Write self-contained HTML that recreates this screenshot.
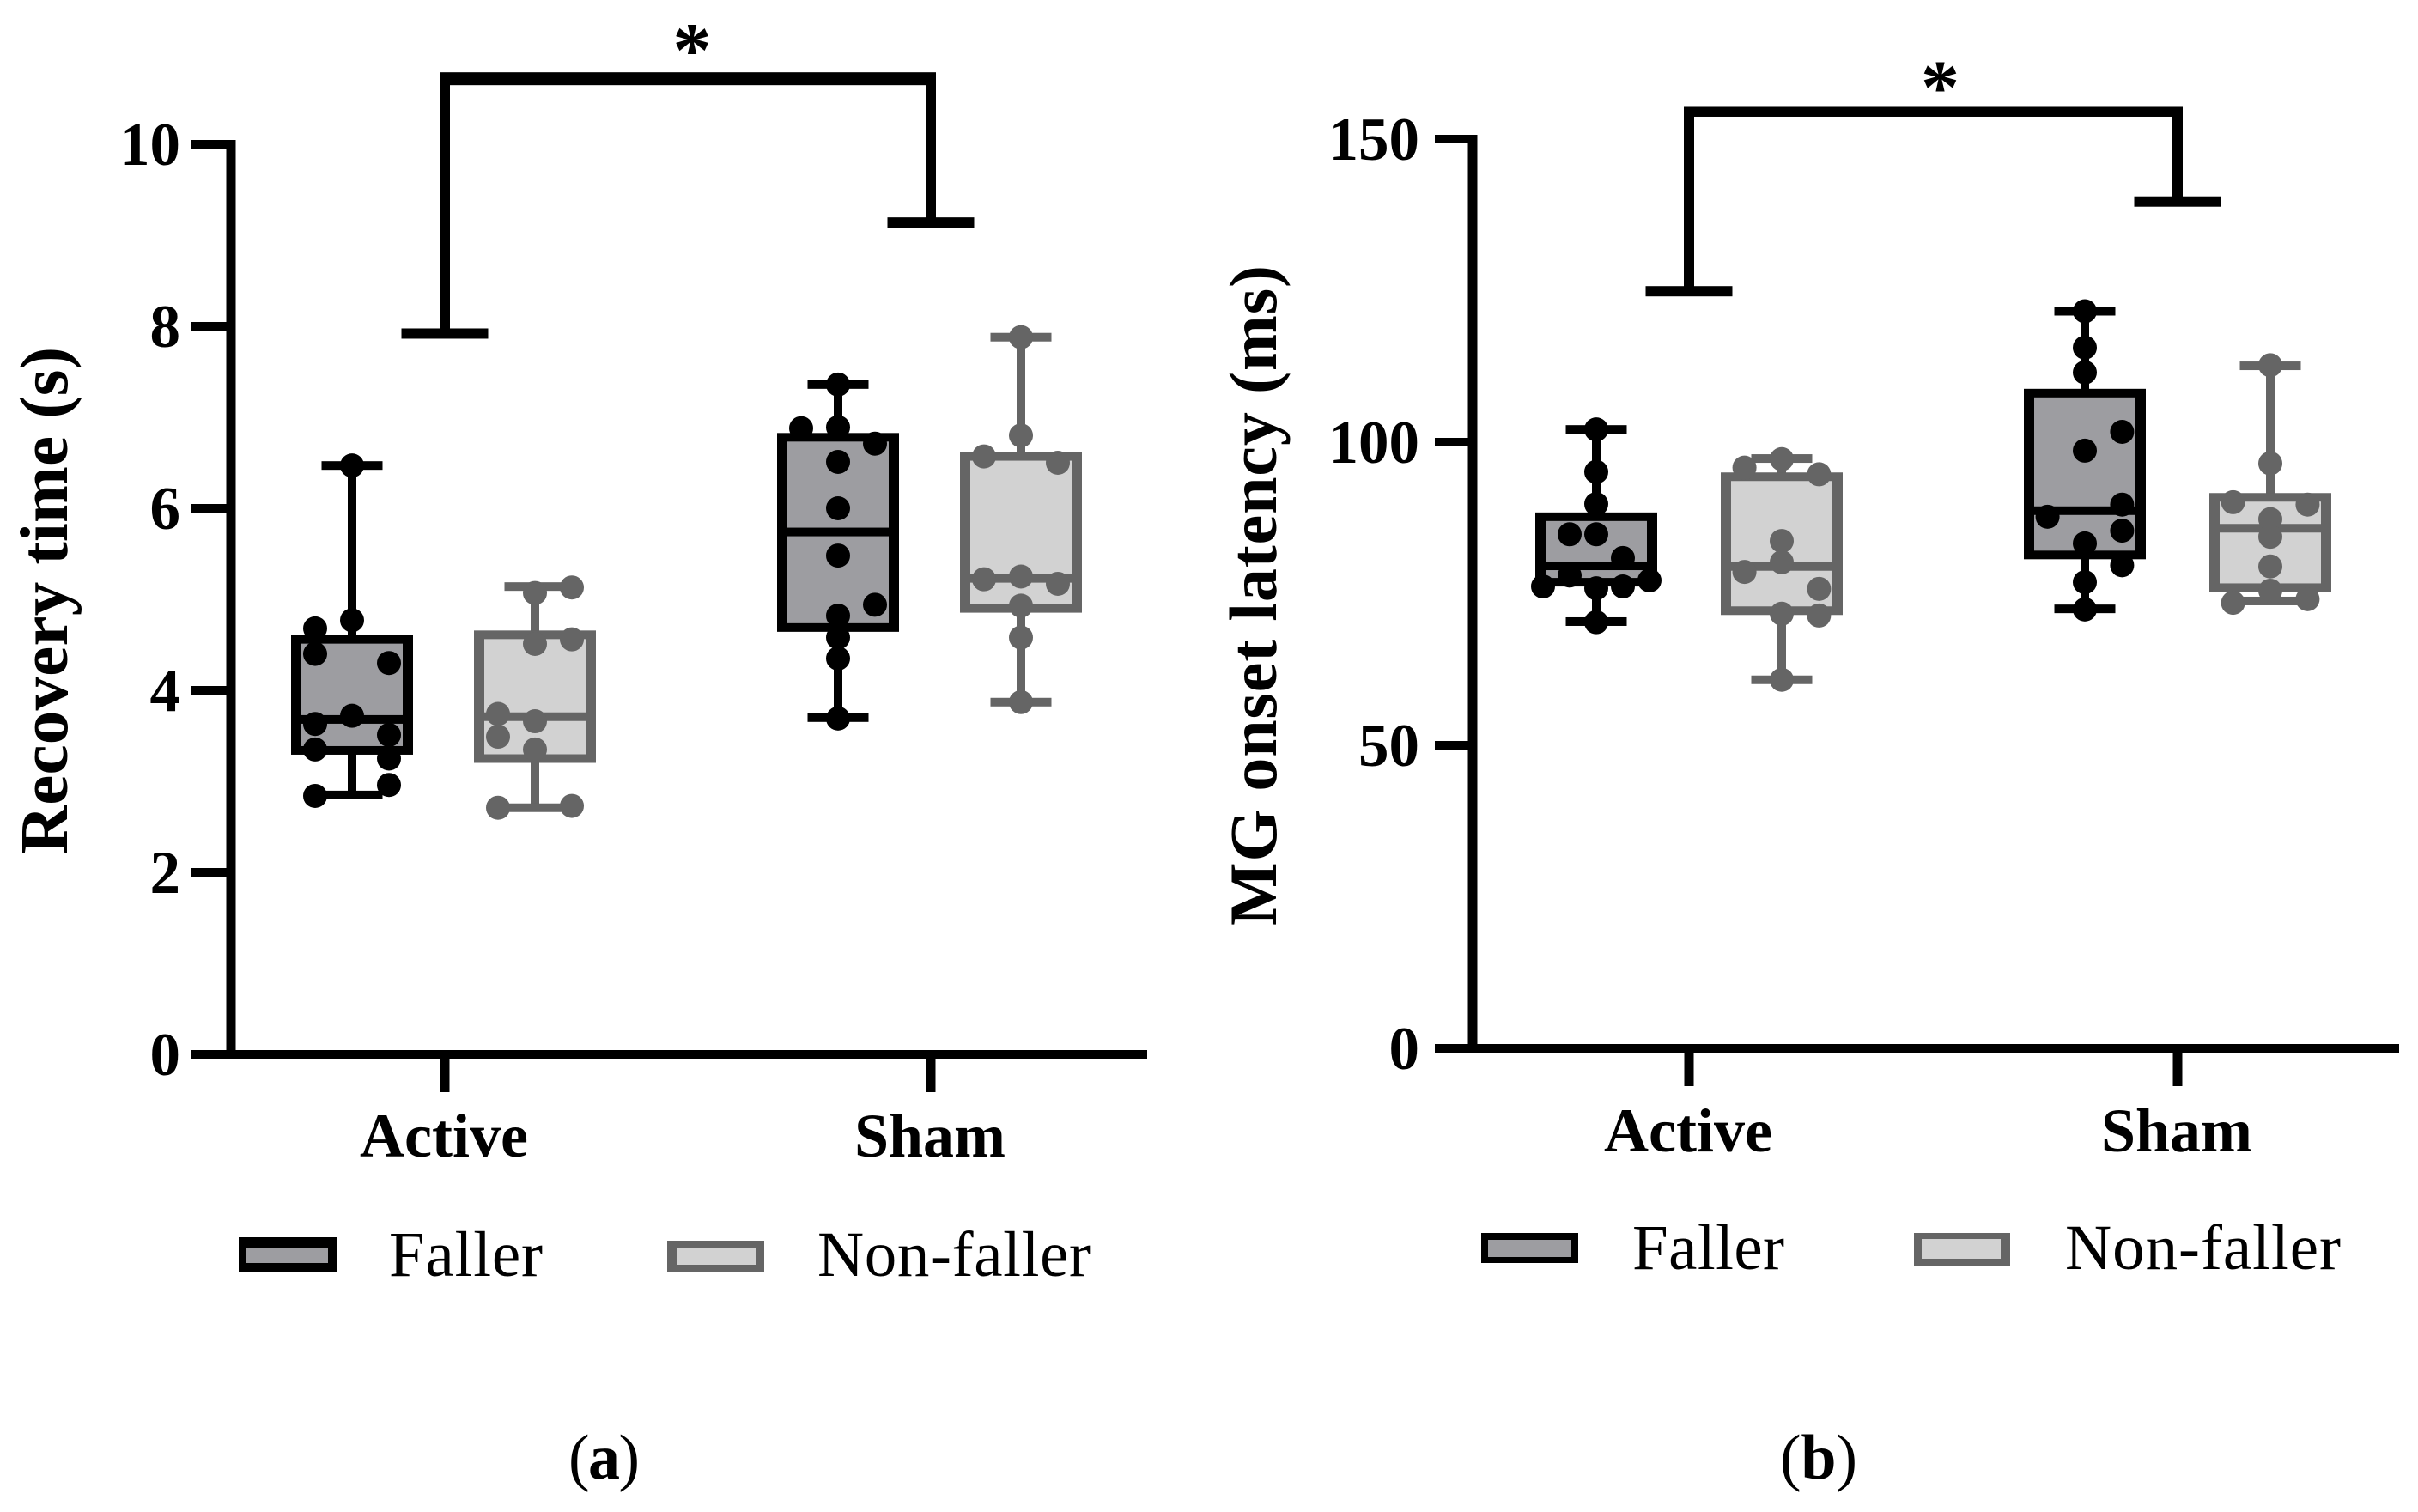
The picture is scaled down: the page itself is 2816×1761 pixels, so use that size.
<!DOCTYPE html>
<html lang="en">
<head>
<meta charset="utf-8">
<title>Recovery time and MG onset latency box plots</title>
<style>
html,body{margin:0;padding:0;background:#fff;}
svg{display:block;}
text{font-family:"Liberation Serif",serif;fill:#000;}
.bold{font-weight:bold;}
</style>
</head>
<body>
<svg id="figure" xmlns="http://www.w3.org/2000/svg" width="2816" height="1761" viewBox="0 0 2816 1761">
  <rect x="0" y="0" width="2816" height="1761" fill="#ffffff"/>
  <g id="panel-a"></g>
  <g id="panel-b"></g>

  <text class="bold" font-size="79" textLength="591" lengthAdjust="spacing" transform="translate(78,995) rotate(-90)">Recovery time (s)</text>
  <text class="bold" font-size="78" textLength="769" lengthAdjust="spacing" transform="translate(1486,1078) rotate(-90)">MG onset latency (ms)</text>

  <g>
    <rect x="278" y="1441" width="114" height="40" fill="#000000"/>
    <rect x="286" y="1454" width="96" height="17" fill="#9d9da1"/>
    <text x="453" y="1486" font-size="75" textLength="179" lengthAdjust="spacing">Faller</text>
    <rect x="777" y="1445" width="113" height="37" fill="#656565"/>
    <rect x="788" y="1454" width="92" height="19" fill="#d2d2d2"/>
    <text x="952" y="1486" font-size="75" textLength="318" lengthAdjust="spacing">Non-faller</text>
  </g>
  <g>
    <rect x="1725" y="1436" width="113" height="35" fill="#000000"/>
    <rect x="1733" y="1444" width="97" height="20" fill="#9d9da1"/>
    <text x="1901" y="1478" font-size="75" textLength="177" lengthAdjust="spacing">Faller</text>
    <rect x="2229" y="1436" width="112" height="39" fill="#656565"/>
    <rect x="2238" y="1443" width="92" height="23" fill="#d2d2d2"/>
    <text x="2405" y="1478" font-size="75" textLength="321" lengthAdjust="spacing">Non-faller</text>
  </g>

  <text x="662" y="1722" font-size="74" textLength="83" lengthAdjust="spacing">(<tspan class="bold">a</tspan>)</text>
  <text x="2073" y="1722" font-size="74" textLength="90" lengthAdjust="spacing">(<tspan class="bold">b</tspan>)</text>
</svg>

<script>
// Shared categories
var categories = ['Active', 'Sham'];
var groups = ['Faller', 'Non-faller'];

// Panel (a): recovery time (s)
var aTicks = [0, 2, 4, 6, 8, 10];
// Box summaries: [min, q1, median, q3, max]
var aActiveFallerBox = [2.85, 3.34, 3.68, 4.56, 6.47];
var aActiveNonFallerBox = [2.71, 3.25, 3.71, 4.61, 5.14];
var aShamFallerBox = [3.70, 4.69, 5.74, 6.78, 7.36];
var aShamNonFallerBox = [3.87, 4.90, 5.23, 6.57, 7.88];
// Individual subject values and swarm columns
var aActiveFallerValues = [6.47, 4.77, 4.68, 4.40, 4.30, 3.72, 3.63, 3.51, 3.35, 3.25, 2.96, 2.84];
var aActiveFallerSlots = [0, 0, -1, -1, 1, 0, -1, 1, -1, 1, 1, -1];
var aActiveNonFallerValues = [5.13, 5.07, 4.56, 4.51, 3.74, 3.66, 3.49, 3.35, 2.73, 2.71];
var aActiveNonFallerSlots = [1, 0, 1, 0, -1, 0, -1, 0, 1, -1];
var aShamFallerValues = [7.36, 6.89, 6.88, 6.71, 6.51, 6.00, 5.48, 4.94, 4.82, 4.58, 4.35, 3.69];
var aShamFallerSlots = [0, 0, -1, 1, 0, 0, 0, 1, 0, 0, 0, 0];
var aShamNonFallerValues = [7.88, 6.80, 6.57, 6.50, 5.25, 5.22, 5.17, 4.93, 4.58, 3.87];
var aShamNonFallerSlots = [0, 0, -1, 1, 0, -1, 1, 0, 0, 0];
// Significance bracket: [left foot, right foot, top]
var aBracket = [7.92, 9.14, 10.72];

// Panel (b): MG onset latency (ms)
var bTicks = [0, 50, 100, 150];
var bActiveFallerBox = [70.4, 76.9, 79.6, 87.7, 102.1];
var bActiveNonFallerBox = [60.8, 72.2, 79.5, 94.3, 97.3];
var bShamFallerBox = [72.5, 81.4, 88.7, 108.1, 121.6];
var bShamNonFallerBox = [73.8, 76.0, 85.8, 90.9, 112.6];
var bActiveFallerValues = [102.1, 95.1, 89.8, 84.8, 84.8, 80.9, 78.0, 77.2, 76.2, 75.9, 76.2, 70.3];
var bActiveFallerSlots = [0, 0, 0, -1, 0, 1, -1, 2, -2, 0, 1, 0];
var bActiveNonFallerValues = [97.2, 95.8, 94.7, 83.7, 80.2, 78.6, 75.8, 71.7, 71.4, 60.8];
var bActiveNonFallerSlots = [0, -1.4, 1.4, 0, 0, -1.4, 1.4, 0, 1.4, 0];
var bShamFallerValues = [121.6, 115.6, 111.5, 101.7, 98.6, 89.7, 87.7, 85.4, 83.3, 79.7, 76.9, 72.4];
var bShamFallerSlots = [0, 0, 0, 1.4, 0, 1.4, -1.4, 1.4, 0, 1.4, 0, 0];
var bShamNonFallerValues = [112.7, 96.5, 90.1, 89.7, 87.3, 84.4, 79.5, 75.5, 74.1, 73.5];
var bShamNonFallerSlots = [0, 0, -1.4, 1.4, 0, 0, 0, 0, 1.4, -1.4];
var bBracket = [124.9, 139.7, 154.5];

var SVG_NS = 'http://www.w3.org/2000/svg';
var BLACK = '#000000';
var GREY = '#656565';
var FILL_DARK = '#9d9da1';
var FILL_LIGHT = '#d2d2d2';

function make(parent, tag, attrs) {
  var node = document.createElementNS(SVG_NS, tag);
  for (var key in attrs) { node.setAttribute(key, attrs[key]); }
  parent.appendChild(node);
  return node;
}

function drawPanel(cfg) {
  var root = document.getElementById(cfg.id);
  function y(v) { return cfg.y0 - v * cfg.yPerUnit; }

  // Box plots
  cfg.series.forEach(function (s, i) {
    var cx = cfg.groupX[s.cat] + cfg.boxOffset[s.grp];
    var color = s.grp === 0 ? BLACK : GREY;
    var fill = s.grp === 0 ? FILL_DARK : FILL_LIGHT;
    var g = make(root, 'g', {});
    
    

    var whisker = make(g, 'rect', { x: cx - 5, y: y(s.box[4]), width: 10, height: y(s.box[0]) - y(s.box[4]), fill: color });
    
    

    var capTop = make(g, 'rect', { x: cx - 35.5, y: y(s.box[4]) - 5, width: 71, height: 10, fill: color });
    
    

    var capBottom = make(g, 'rect', { x: cx - 35.5, y: y(s.box[0]) - 5, width: 71, height: 10, fill: color });
    
    

    var outer = make(g, 'rect', { x: cx - 71, y: y(s.box[3]) - 5, width: 142, height: y(s.box[1]) - y(s.box[3]) + 10, fill: color });
    
    

    var inner = make(g, 'rect', { x: cx - 59, y: y(s.box[3]) + 5, width: 118, height: Math.max(0, y(s.box[1]) - y(s.box[3]) - 10), fill: fill });
    
    

    var median = make(g, 'rect', { x: cx - 59, y: y(s.box[2]) - 5, width: 118, height: 10, fill: color });
    
    

    s.values.forEach(function (v, k) {
      var dot = make(g, 'circle', { cx: cx + s.slots[k] * cfg.slotStep, cy: y(v), r: 14, fill: color });
      
      
    });
  });

  // Y axis
  var yAxis = make(root, 'rect', { x: cfg.axisX - 5.5, y: y(cfg.ticks[cfg.ticks.length - 1]) - 5, width: 11, height: cfg.y0 - y(cfg.ticks[cfg.ticks.length - 1]) + 10, fill: BLACK });
  
  

  // X axis
  var xAxis = make(root, 'rect', { x: cfg.tickLeft, y: cfg.y0 - 5, width: cfg.axisRight - cfg.tickLeft, height: 10, fill: BLACK });
  
  

  // Y ticks
  cfg.ticks.forEach(function (t) {
    var tick = make(root, 'rect', { x: cfg.tickLeft, y: y(t) - 5, width: cfg.axisX - cfg.tickLeft, height: 10, fill: BLACK });
    
    

    var label = make(root, 'text', { x: cfg.labelRight, y: y(t) + 24, 'font-size': 71, 'text-anchor': 'end', 'class': 'bold' });
    label.textContent = String(t);
    
    
  });

  // X ticks and category labels
  categories.forEach(function (c, i) {
    var tick = make(root, 'rect', { x: cfg.groupX[i] - 5.5, y: cfg.y0, width: 11, height: 44, fill: BLACK });
    
    

    var label = make(root, 'text', { x: cfg.groupX[i] - 1, y: cfg.catBaseline, 'font-size': 72, 'text-anchor': 'middle', 'class': 'bold' });
    label.textContent = c;
    
    
  });

  // Significance bracket
  var bTop = y(cfg.bracket[2]);
  var left = cfg.groupX[0];
  var right = cfg.groupX[1];
  var br = make(root, 'g', {});
  
  

  var barTop = make(br, 'rect', { x: left - 6, y: bTop - cfg.bracketThick / 2, width: right - left + 12, height: cfg.bracketThick, fill: BLACK });
  
  

  var legLeft = make(br, 'rect', { x: left - 6, y: bTop, width: 12, height: y(cfg.bracket[0]) - bTop, fill: BLACK });
  
  

  var legRight = make(br, 'rect', { x: right - 6, y: bTop, width: 12, height: y(cfg.bracket[1]) - bTop, fill: BLACK });
  
  

  var footLeft = make(br, 'rect', { x: left - 50.5, y: y(cfg.bracket[0]) - 6, width: 101, height: 12, fill: BLACK });
  
  

  var footRight = make(br, 'rect', { x: right - 50.5, y: y(cfg.bracket[1]) - 6, width: 101, height: 12, fill: BLACK });
  
  

  var star = make(br, 'text', { x: (left + right) / 2 + cfg.starShift, y: bTop - cfg.starLift, 'font-size': 90, 'text-anchor': 'middle', 'class': 'bold' });
  star.textContent = '*';
  
  
}

drawPanel({
  id: 'panel-a',
  y0: 1228, yPerUnit: 106,
  axisX: 269, tickLeft: 223, axisRight: 1336, labelRight: 210,
  groupX: [518, 1084], boxOffset: [-108, 105], slotStep: 43,
  catBaseline: 1347,
  ticks: aTicks, bracket: aBracket, bracketThick: 15, starLift: 3, starShift: 5,
  series: [
    { cat: 0, grp: 0, box: aActiveFallerBox, values: aActiveFallerValues, slots: aActiveFallerSlots },
    { cat: 0, grp: 1, box: aActiveNonFallerBox, values: aActiveNonFallerValues, slots: aActiveNonFallerSlots },
    { cat: 1, grp: 0, box: aShamFallerBox, values: aShamFallerValues, slots: aShamFallerSlots },
    { cat: 1, grp: 1, box: aShamNonFallerBox, values: aShamNonFallerValues, slots: aShamNonFallerSlots }
  ]
});

drawPanel({
  id: 'panel-b',
  y0: 1221, yPerUnit: 7.06,
  axisX: 1715, tickLeft: 1671, axisRight: 2794, labelRight: 1653,
  groupX: [1967, 2536], boxOffset: [-108, 108], slotStep: 31,
  catBaseline: 1341,
  ticks: bTicks, bracket: bBracket, bracketThick: 11.5, starLift: -2, starShift: 8,
  series: [
    { cat: 0, grp: 0, box: bActiveFallerBox, values: bActiveFallerValues, slots: bActiveFallerSlots },
    { cat: 0, grp: 1, box: bActiveNonFallerBox, values: bActiveNonFallerValues, slots: bActiveNonFallerSlots },
    { cat: 1, grp: 0, box: bShamFallerBox, values: bShamFallerValues, slots: bShamFallerSlots },
    { cat: 1, grp: 1, box: bShamNonFallerBox, values: bShamNonFallerValues, slots: bShamNonFallerSlots }
  ]
});
</script>
</body>
</html>
